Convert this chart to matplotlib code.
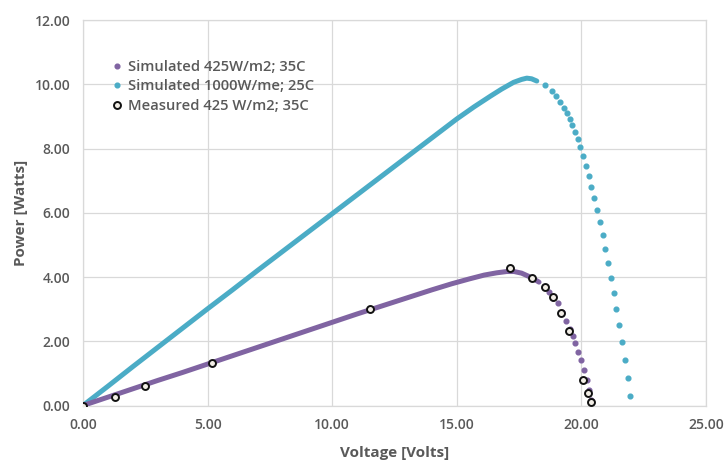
import matplotlib
matplotlib.use("Agg")
import matplotlib.pyplot as plt
from matplotlib.lines import Line2D

# ---- data ----
# Simulated 1000 W/m2, 25C : dense body of the curve (drawn as a thick line of overlapping dots)
cyan_body_v = [0.0, 1.0, 2.0, 3.0, 4.0, 5.0, 6.0, 7.0, 8.0, 9.0, 10.0, 11.0, 12.0, 13.0,
               14.0, 15.0, 15.7, 16.35, 16.8, 17.28, 17.6, 17.81, 18.0, 18.21]
cyan_body_p = [0.0, 0.60, 1.21, 1.81, 2.41, 3.01, 3.60, 4.20, 4.79, 5.38, 5.97, 6.56, 7.15, 7.74,
               8.33, 8.92, 9.30, 9.63, 9.85, 10.06, 10.15, 10.19, 10.17, 10.10]
# sparse dots after the maximum power point
cyan_tail_v = [18.54, 18.81, 18.98, 19.14, 19.29, 19.42, 19.53, 19.63, 19.74, 19.85, 19.96, 20.08,
               20.19, 20.31, 20.40, 20.50, 20.64, 20.75, 20.85, 20.96, 21.07, 21.19, 21.30, 21.40,
               21.51, 21.62, 21.75, 21.86, 21.95]
cyan_tail_p = [9.98, 9.80, 9.63, 9.45, 9.26, 9.10, 8.93, 8.73, 8.52, 8.30, 8.04, 7.76,
               7.45, 7.14, 6.81, 6.45, 6.09, 5.71, 5.31, 4.88, 4.44, 3.97, 3.50, 3.01,
               2.50, 1.97, 1.43, 0.87, 0.30]

# Simulated 425 W/m2, 35C
purple_body_v = [0.0, 1.0, 2.0, 3.0, 4.0, 5.0, 6.0, 7.0, 8.0, 9.0, 10.0, 11.0, 12.0, 13.0,
                 14.0, 14.8, 15.5, 16.1, 16.6, 17.0, 17.3, 17.6, 18.0, 18.3]
purple_body_p = [0.0, 0.26, 0.52, 0.78, 1.03, 1.29, 1.55, 1.81, 2.07, 2.33, 2.59, 2.85, 3.10, 3.35,
                 3.60, 3.79, 3.94, 4.06, 4.13, 4.17, 4.17, 4.12, 3.98, 3.84]
purple_tail_v = [18.50, 18.70, 18.88, 19.05, 19.22, 19.38, 19.53, 19.66, 19.76, 19.86, 19.97,
                 20.09, 20.21, 20.30, 20.38]
purple_tail_p = [3.70, 3.53, 3.36, 3.18, 2.91, 2.64, 2.38, 2.16, 1.94, 1.68, 1.41,
                 1.10, 0.79, 0.48, 0.17]

# Measured 425 W/m2, 35C
meas_v = [0.0, 1.30, 2.50, 5.19, 11.50, 17.13, 18.00, 18.52, 18.87, 19.18, 19.50, 20.08, 20.28, 20.39]
meas_p = [0.0, 0.28, 0.60, 1.31, 2.99, 4.27, 3.96, 3.68, 3.37, 2.87, 2.32, 0.80, 0.40, 0.11]

labels = ["Simulated 425W/m2; 35C", "Simulated 1000W/me; 25C", "Measured 425 W/m2; 35C"]
x_ticks = [0, 5, 10, 15, 20, 25]
y_ticks = [0, 2, 4, 6, 8, 10, 12]

# ---- style ----
CYAN = "#4bacc6"
PURPLE = "#8064a2"
GRID = "#d9d9d9"
TXT = "#595959"
plt.rcParams['font.family'] = ['Open Sans', 'DejaVu Sans']

fig = plt.figure(figsize=(7.26, 4.61), dpi=100)
ax = fig.add_axes([83/726, 1-405.5/461, (706-83)/726, (405.5-20)/461])

lw = 3.6
ms = 3.4
ax.plot(cyan_body_v, cyan_body_p, color=CYAN, lw=lw, solid_capstyle='round', solid_joinstyle='round', zorder=3)
ax.plot(cyan_tail_v, cyan_tail_p, ls='none', marker='o', ms=ms, color=CYAN, mec=CYAN, zorder=3)
ax.plot(purple_body_v, purple_body_p, color=PURPLE, lw=lw, solid_capstyle='round', solid_joinstyle='round', zorder=4)
ax.plot(purple_tail_v, purple_tail_p, ls='none', marker='o', ms=ms, color=PURPLE, mec=PURPLE, zorder=4)
ax.plot(meas_v, meas_p, ls='none', marker='o', ms=5.0, mfc='#f2eee6', mec='#111111', mew=1.4, zorder=5)

ax.set_xlim(0, 25)
ax.set_ylim(0, 12)
ax.set_xticks(x_ticks)
ax.set_yticks(y_ticks)
ax.set_xticklabels([f"{t:.2f}" for t in x_ticks])
ax.set_yticklabels([f"{t:.2f}" for t in y_ticks])
ax.grid(True, color=GRID, lw=0.9, zorder=0)
ax.set_axisbelow(True)
for s in ax.spines.values():
    s.set_color(GRID)
    s.set_linewidth(0.9)
ax.tick_params(length=0, pad=9, labelsize=10, labelcolor=TXT)
for lab in ax.get_xticklabels() + ax.get_yticklabels():
    lab.set_fontweight('semibold')

ax.set_xlabel("Voltage [Volts]", fontsize=11, fontweight='bold', color=TXT, labelpad=10)
ax.set_ylabel("Power [Watts]", fontsize=11, fontweight='bold', color=TXT, labelpad=5)

handles = [
    Line2D([], [], ls='none', marker='o', ms=3.4, color=PURPLE),
    Line2D([], [], ls='none', marker='o', ms=3.4, color=CYAN),
    Line2D([], [], ls='none', marker='o', ms=5, mfc='#f2eee6', mec='#111111', mew=1.4),
]
leg = ax.legend(handles, labels, loc='upper left', bbox_to_anchor=(0.038, 0.912), frameon=False,
                handlelength=0.6, handletextpad=0.45, labelspacing=0.38, borderaxespad=0,
                prop={'size': 10.6, 'weight': 'semibold'})
for t in leg.get_texts():
    t.set_color(TXT)

fig.savefig("out.png", dpi=100, facecolor='white')
